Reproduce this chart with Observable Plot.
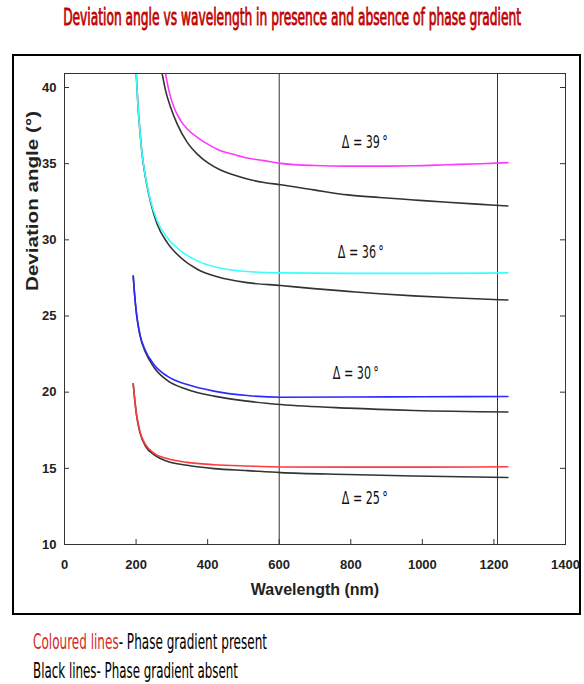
<!DOCTYPE html>
<html><head><meta charset="utf-8">
<script src="https://cdn.jsdelivr.net/npm/d3@7"></script>
<script src="https://cdn.jsdelivr.net/npm/@observablehq/plot@0.6"></script>
<style>
body{margin:0;background:#fff;width:584px;height:684px;position:relative;overflow:hidden;font-family:"DejaVu Sans Condensed","Liberation Sans Narrow","Arial Narrow",sans-serif}
#title{position:absolute;left:0;width:584px;top:7px;text-align:center;white-space:nowrap}
#title span{display:inline-block;color:#c00000;font-size:17px;font-weight:normal;-webkit-text-stroke:0.6px #c00000;transform-origin:center center}
#box{position:absolute;left:12px;top:54px;width:565px;height:557px;border:2px solid #000}
#chart{position:absolute;left:0;top:0}
.cap{position:absolute;left:33px;white-space:nowrap}
.cap span.fit{display:inline-block;font-size:17px;line-height:20px;color:#000;transform-origin:left center}
</style></head>
<body>
<div id="title"><span class="fit" data-w="458" data-sy="1.3">Deviation angle vs wavelength in presence and absence of phase gradient</span></div>
<div id="box"><div id="chart"></div></div>
<div class="cap" style="top:632px"><span class="fit" data-w="234" data-sy="1.2"><span style="color:#d42a2a">Coloured lines</span>- Phase gradient present</span></div>
<div class="cap" style="top:661px"><span class="fit" data-w="205" data-sy="1.2">Black lines- Phase gradient absent</span></div>
<script>
// ---- data (wavelength in nm, deviation angle in degrees) ----
const wl39On  = [282.5, 291.8, 305.8, 324.5, 343, 371, 399, 436, 473.6, 511, 557.6, 604, 697, 792, 880, 976, 1070, 1164, 1239];
const ang39On = [40.9, 39.8, 38.7, 37.83, 37.28, 36.73, 36.3, 35.85, 35.6, 35.37, 35.2, 35.02, 34.88, 34.84, 34.84, 34.86, 34.93, 35.0, 35.07];
const wl39Off  = [273, 282.5, 296.5, 315, 343, 371, 399, 436, 473.6, 511, 557.6, 604, 697, 792, 880, 976, 1070, 1164, 1239];
const ang39Off = [40.9, 39.8, 38.7, 37.6, 36.4, 35.63, 35.08, 34.58, 34.25, 33.99, 33.77, 33.62, 33.28, 32.95, 32.78, 32.62, 32.47, 32.33, 32.22];

const wl36On  = [200.5, 205, 210.7, 217, 226.6, 240.6, 259, 287, 324.5, 371, 427, 511, 604, 800, 1000, 1239];
const ang36On = [40.9, 38.93, 37.17, 35.63, 34.1, 32.57, 31.25, 30.15, 29.28, 28.62, 28.18, 27.92, 27.83, 27.8, 27.8, 27.83];
const wl36Off  = [200.5, 205, 210.7, 217, 226.6, 240.6, 259, 287, 324.5, 371, 427, 511, 604, 697, 792, 880, 976, 1100, 1239];
const ang36Off = [40.9, 38.93, 37.17, 35.6, 34.05, 32.46, 31.03, 29.82, 28.84, 28.07, 27.57, 27.19, 27.0, 26.8, 26.62, 26.46, 26.32, 26.18, 26.05];

const wl30On  = [192, 195.8, 201.4, 210.7, 226.6, 249.8, 287, 343, 417.6, 511, 604, 800, 1000, 1239];
const ang30On = [27.63, 26.43, 25.11, 23.8, 22.7, 21.82, 21.05, 20.5, 20.07, 19.78, 19.67, 19.68, 19.7, 19.72];
const wl30Off  = [192, 195.8, 201.4, 210.7, 226.6, 249.8, 287, 343, 417.6, 511, 604, 792, 976, 1239];
const ang30Off = [27.63, 26.43, 25.1, 23.75, 22.6, 21.64, 20.77, 20.18, 19.74, 19.41, 19.19, 18.95, 18.8, 18.7];

const wl25On  = [192, 195.8, 201.4, 210.7, 226.6, 249.8, 287, 343, 417.6, 511, 604, 800, 1000, 1239];
const ang25On = [20.55, 19.63, 18.53, 17.43, 16.55, 16.0, 15.64, 15.39, 15.24, 15.15, 15.09, 15.08, 15.08, 15.1];
const wl25Off  = [192, 195.8, 201.4, 210.7, 226.6, 249.8, 287, 343, 417.6, 511, 604, 792, 976, 1239];
const ang25Off = [20.55, 19.6, 18.48, 17.36, 16.45, 15.9, 15.46, 15.2, 14.98, 14.85, 14.72, 14.6, 14.5, 14.4];

const seriesColors = ["#ff38ff", "#38ffff", "#2a2aff", "#ff3a3a"];
const labelTexts = ["Δ = 39\u2009°", "Δ = 36\u2009°", "Δ = 30\u2009°", "Δ = 25\u2009°"];
const labelWl  = [839, 828, 814, 839];
const labelAng = [36.4, 29.15, 21.25, 13.0];
const markerLines = [600, 1210];
const xTicks = [0, 200, 400, 600, 800, 1000, 1200, 1400];
const yTicks = [10, 15, 20, 25, 30, 35, 40];
const xTitle = "Wavelength (nm)";
const yTitle = "Deviation angle (°)";

// ---- build tables ----
const pairs = [
  [wl39On, ang39On, wl39Off, ang39Off],
  [wl36On, ang36On, wl36Off, ang36Off],
  [wl30On, ang30On, wl30Off, ang30Off],
  [wl25On, ang25On, wl25Off, ang25Off]
];
const colored = [], black = [];
pairs.forEach(([wa, aa, wb, ab], i) => {
  wa.forEach((w, j) => colored.push({wl: w, ang: aa[j], s: i}));
  wb.forEach((w, j) => black.push({wl: w, ang: ab[j], s: i}));
});
const labels = labelTexts.map((t, i) => ({t, wl: labelWl[i], ang: labelAng[i]}));

const W = 565, H = 557, mL = 50, mR = 14, mT = 17, mB = 69;
const fw = W - mL - mR, fh = H - mT - mB;
const tickLen = 5;

const chart = Plot.plot({
  width: W, height: H,
  marginLeft: mL, marginRight: mR, marginTop: mT, marginBottom: mB,
  style: {fontFamily: "'Liberation Sans', Arial, sans-serif", fontSize: "13px", color: "#222", background: "transparent", overflow: "visible"},
  x: {domain: [0, 1400]},
  y: {domain: [10, 40.92]},
  marks: [
    Plot.ruleX(markerLines, {x: d => d, stroke: "#333", strokeWidth: 1}),
    Plot.line(black, {x: "wl", y: "ang", z: "s", stroke: "#333", strokeWidth: 1.6, curve: "monotone-x"}),
    Plot.line(colored, {x: "wl", y: "ang", z: "s", stroke: d => seriesColors[d.s], strokeWidth: 1.6, curve: "monotone-x"}),
    Plot.tickX(xTicks.slice(1, -1), {x: d => d, insetTop: fh - tickLen, stroke: "#333"}),
    Plot.tickY(yTicks.slice(1), {y: d => d, insetRight: fw - tickLen, stroke: "#333"}),
    Plot.tickY(yTicks.slice(1), {y: d => d, insetLeft: fw - tickLen, stroke: "#333"}),
    Plot.frame({stroke: "#333"}),
    Plot.axisX(xTicks, {tickSize: 0, tickPadding: 15, tickFormat: d => String(d), fontWeight: "bold", fontSize: 13, label: null}),
    Plot.axisY(yTicks, {tickSize: 0, tickPadding: 8, tickFormat: d => String(d), fontWeight: "bold", fontSize: 13, label: null}),
    Plot.text([xTitle], {text: d => d, frameAnchor: "bottom", dy: 50, fontWeight: "bold", fontSize: 16}),
    Plot.text([yTitle], {text: d => d, frameAnchor: "left", textAnchor: "middle", dx: -32, dy: -108, rotate: -90, fontWeight: "bold", fontSize: 16, className: "ytitle"}),
    Plot.text(labels, {x: "wl", y: "ang", text: "t", fontFamily: "'DejaVu Sans Condensed', sans-serif", fontSize: 17, fill: "#111", className: "dlabel"})
  ]
});
document.getElementById("chart").appendChild(chart);

// stretch / squeeze SVG texts to the reference lengths
d3.select(chart).selectAll(".ytitle text").attr("textLength", 180).attr("lengthAdjust", "spacingAndGlyphs");
d3.select(chart).selectAll(".dlabel text").attr("textLength", 46).attr("lengthAdjust", "spacingAndGlyphs");

// fit HTML texts to the reference widths
document.querySelectorAll(".fit[data-w]").forEach(el => {
  const w = el.getBoundingClientRect().width;
  const target = +el.dataset.w;
  el.style.transform = `scale(${target / w}, ${el.dataset.sy || 1})`;
});
</script>
</body></html>
